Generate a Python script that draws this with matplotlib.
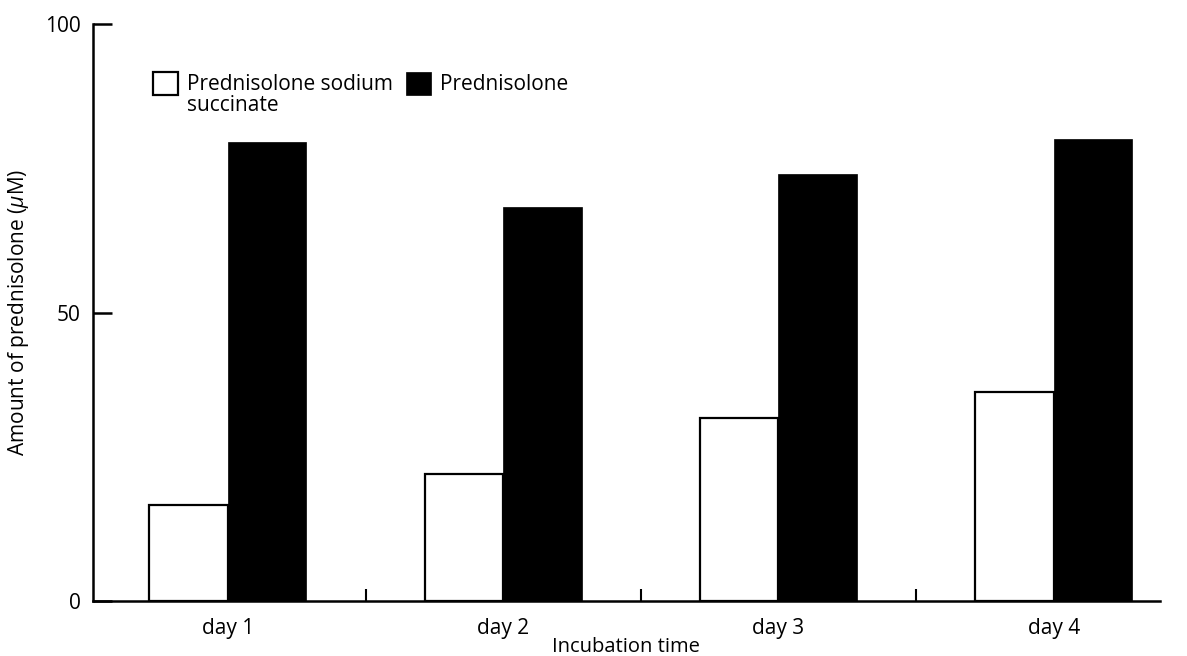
import matplotlib
matplotlib.use("Agg")
import matplotlib.pyplot as plt
import matplotlib.patches as patches
import numpy as np

plt.rcParams['font.family'] = ['Open Sans', 'DejaVu Sans']
plt.rcParams['mathtext.fontset'] = 'custom'
plt.rcParams['mathtext.it'] = 'Open Sans:italic'

#--------data--------------
days = ["day 1", "day 2", "day 3", "day 4"]
succinate = [16.6, 22.1, 31.7, 36.3]
prednisolone = [79.6, 68.3, 74.1, 80.1]
y_ticks = [0, 50, 100]

x = np.arange(len(days))
width = 0.285

fig = plt.figure(figsize=(11.87, 6.56), dpi=100)
ax = fig.add_axes([0.0784, 0.0838, 0.977 - 0.0784, 0.963 - 0.0838])

b1 = ax.bar(x - width / 2, succinate, width, color="white", edgecolor="black",
            linewidth=1.6)
b2 = ax.bar(x + width / 2, prednisolone, width, color="black", edgecolor="black",
            linewidth=0.5)

ax.set_xlim(-0.49, 3.385)
ax.set_ylim(0, 100)
ax.set_xticks(x)
ax.set_xticklabels(days)
ax.set_xticks(x[:-1] + 0.5, minor=True)
ax.set_yticks(y_ticks)

ax.tick_params(axis='x', which='major', length=0, pad=12, labelsize=15)
ax.tick_params(axis='x', which='minor', direction='in', length=9, width=1.5)
ax.tick_params(axis='y', which='major', direction='in', length=14, width=1.8,
               pad=9, labelsize=15)

ax.set_xlabel("Incubation time", fontsize=14.5, labelpad=-1)
ax.set_ylabel(r"Amount of prednisolone ($\mu$M)", fontsize=15, labelpad=10)

ax.spines['top'].set_visible(False)
ax.spines['right'].set_visible(False)
ax.spines['left'].set_linewidth(1.8)
ax.spines['bottom'].set_linewidth(1.8)

# second line of the first label gets an empty handle so the boxes sit on the first line
blank = patches.Patch(facecolor="none", edgecolor="none")
ax.legend([b1, blank, b2], ["Prednisolone sodium", "succinate", "Prednisolone"],
          loc='upper left', bbox_to_anchor=(0.056, 0.917), ncol=2,
          frameon=False, fontsize=15, handlelength=1.2, handleheight=1.3,
          handletextpad=0.45, columnspacing=0.6, labelspacing=-0.15,
          borderpad=0, borderaxespad=0)

fig.savefig("out.png", dpi=100)
plt.close(fig)
